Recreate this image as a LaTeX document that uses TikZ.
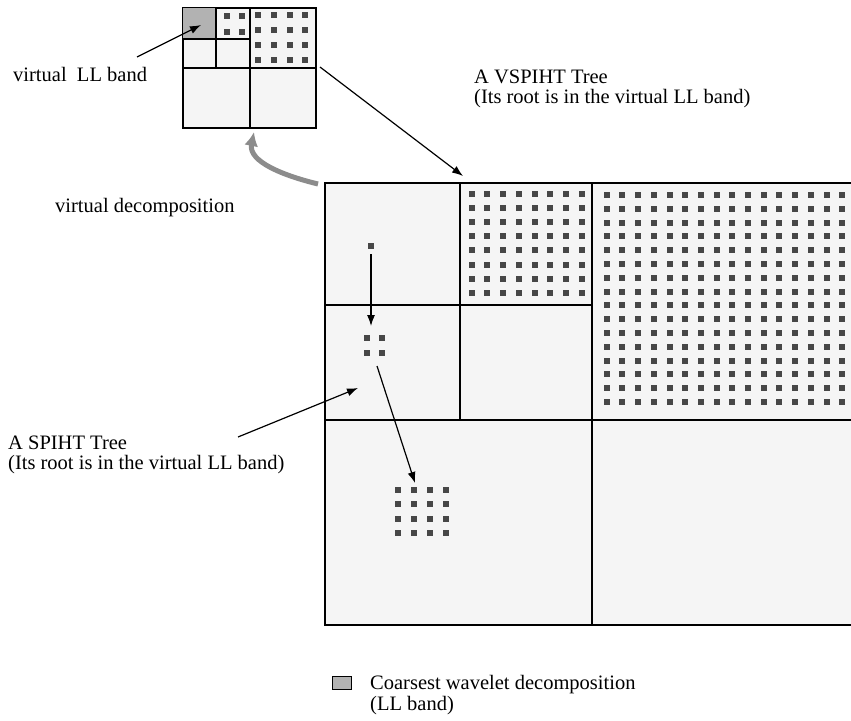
\documentclass[tikz,border=0pt]{standalone}
\usepackage{fontspec}
\setmainfont{Liberation Serif}
\usetikzlibrary{arrows.meta,positioning}

\begin{document}
\begin{tikzpicture}[x=1pt,y=-1pt,>={Latex[length=11pt,width=8pt]}]
\tikzset{
 band/.style={draw=black,line width=1.5pt,fill=black!4},
 llband/.style={draw=black,line width=0.8pt,fill=black!30},
 coef/.style={fill=black!72},
 label/.style={font=\fontsize{20.5}{20.5}\selectfont,align=left,inner sep=0pt,anchor=west},
 arrow/.style={->,line width=1.2pt},
 swoosh/.style={->,line width=5pt,draw=black!45,>={Latex[length=14pt,width=14pt]}}
}
\clip (0,0) rectangle (851,720);

% virtual decomposition (small)
\draw[band] (183,8) rectangle (316,128);
\fill[black!30] (183,8) rectangle (216,39);
\draw[line width=1.5pt] (250,8) -- (250,128) (183,68) -- (316,68)
 (216,8) -- (216,68) (183,39) -- (250,39);
\foreach \i in {0,1} \foreach \j in {0,1}
 \fill[coef] ({226.5+15*\i-3},{15.5+16.5*\j-3}) rectangle ++(6,6);
\foreach \i in {0,...,3} \foreach \j in {0,...,3}
 \fill[coef] ({258+15.8*\i-3},{15+15*\j-3}) rectangle ++(6,6);

% wavelet decomposition (large)
\draw[band] (325,183) rectangle (860,625);
\draw[line width=1.5pt] (592,183) -- (592,625) (325,420) -- (860,420)
 (460,183) -- (460,420) (325,305) -- (592,305);
\foreach \i in {0,...,7} \foreach \j in {0,...,7}
 \fill[coef] ({471.7+15.7*\i-3},{194+14.1*\j-3}) rectangle ++(6,6);
\foreach \i in {0,...,15} \foreach \j in {0,...,15}
 \fill[coef] ({606.7+15.7*\i-3},{195+13.8*\j-3}) rectangle ++(6,6);
\fill[coef] (367.7,243) rectangle ++(6,6);
\foreach \i in {0,1} \foreach \j in {0,1}
 \fill[coef] ({366.7+15*\i-3},{338+15*\j-3}) rectangle ++(6,6);
\foreach \i in {0,...,3} \foreach \j in {0,...,3}
 \fill[coef] ({398.3+15.8*\i-3},{490+14.3*\j-3}) rectangle ++(6,6);

% labels
\node[label] (ll) at (13,74) {virtual\ \ LL band};
\node[label] (vs) at (474,89) {A VSPIHT Tree\\(Its root is in the virtual LL band)};
\node[label] (vd) at (55,208) {virtual decomposition};
\node[label] (sp) at (8,455) {A SPIHT Tree\\(Its root is in the virtual LL band)};
\node[label] (lg) at (370,695) {Coarsest wavelet decomposition\\(LL band)};
\draw[llband] (332,676) rectangle (351,689);

% connectors
\coordinate (llin) at (137,57);
\coordinate (lltip) at (201,25);
\coordinate (vsin) at (320,67);
\coordinate (vstip) at (463,176);
\coordinate (spin) at (238,437);
\coordinate (sptip) at (358,388);
\coordinate (root) at (371,254);
\coordinate (kids) at (371,326);
\coordinate (kid) at (377,366);
\coordinate (grand) at (415,483);
\coordinate (vdin) at (318,184);
\coordinate (vdtip) at (254,132);
\draw[arrow] (llin) -- (lltip);
\draw[arrow] (vsin) -- (vstip);
\draw[arrow] (spin) -- (sptip);
\draw[arrow] (root) -- (kids);
\draw[arrow] (kid) -- (grand);
\draw[swoosh] (vdin) .. controls (285,176) and (248,162) .. (vdtip);
\end{tikzpicture}
\end{document}
